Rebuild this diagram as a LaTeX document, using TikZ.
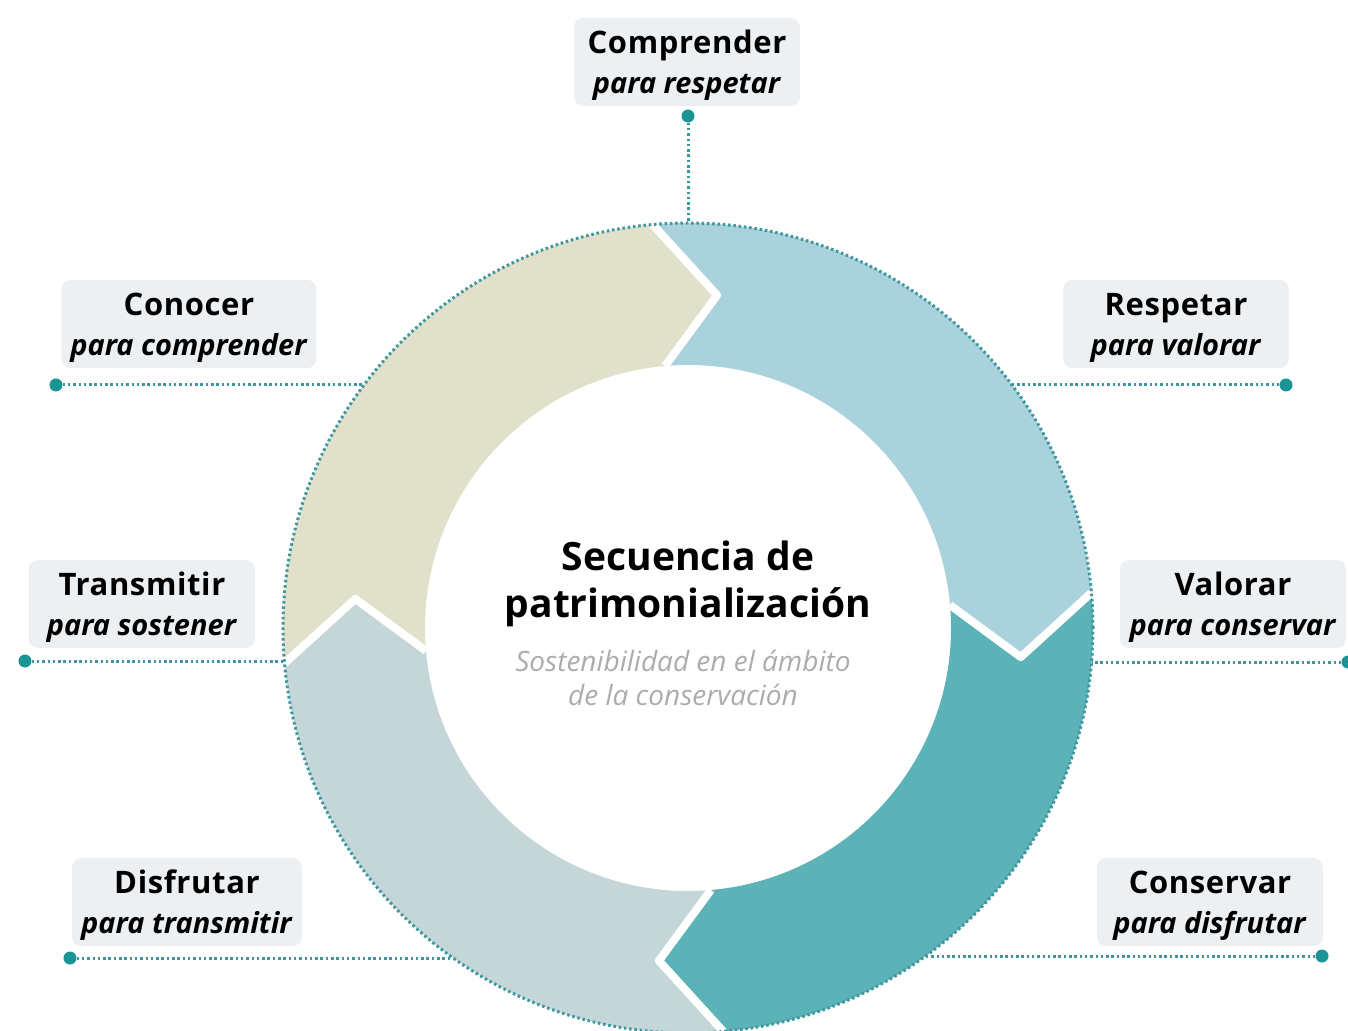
\documentclass[tikz,border=0pt]{standalone}
\usepackage{fontspec}
\setmainfont{Open Sans}
\definecolor{beige}{RGB}{224,224,203}
\definecolor{lblue}{RGB}{170,210,220}
\definecolor{teal}{RGB}{91,178,183}
\definecolor{gblue}{RGB}{197,214,216}
\definecolor{boxgrey}{RGB}{237,240,242}
\definecolor{dotcol}{RGB}{62,150,158}
\definecolor{pincol}{RGB}{27,148,150}
\definecolor{subgrey}{RGB}{172,172,172}
\newcommand\tagtop[1]{{\fontsize{31}{40}\selectfont\addfontfeatures{LetterSpace=2}#1}}
\begin{document}
\begin{tikzpicture}[
	x=1pt, y=1pt,
	tag/.style={fill=boxgrey, rounded corners=9pt, align=center,
		minimum width=226pt, minimum height=88pt, inner xsep=9pt,
		text depth=-2pt, font=\fontsize{29}{40}\selectfont\bfseries},
	link/.style={draw=dotcol, line width=3pt, dash pattern=on 2.5pt off 2.8pt},
	pin/.style={circle, fill=pincol, inner sep=0pt, minimum size=13pt},
	gap/.style={draw=white, line width=8pt, line join=round},
	title/.style={align=center, font=\fontsize{39}{47}\selectfont\bfseries},
	sub/.style={align=center, text=subgrey, font=\fontsize{28}{34}\selectfont\itshape},
]
\useasboundingbox (-688,-402) rectangle (660,628);
% ring
\foreach \s/\c in {185/beige, 95/lblue, 5/teal, -85/gblue} {
	\pgfmathsetmacro\e{\s-90}
	\fill[\c] (\s:405) arc[start angle=\s, end angle=\e, radius=405]
		-- ({\e-10}:334) -- (\e:263) arc[start angle=\e, end angle=\s, radius=263]
		-- ({\s-10}:334) -- cycle;
}
\foreach \s in {185,95,5,-85}
	\draw[gap] (\s:405) -- ({\s-10}:334) -- (\s:263);
\draw[link] (0,0) circle (405pt);
% centre
\node[title] (head) at (0,44) {Secuencia de\\patrimonialización};
\node[sub] (foot) at (-5,-50) {Sostenibilidad en el ámbito\\de la conservación};
% labels
\node[tag] (t1) at (-1,566) {\tagtop{Comprender}\\\textit{para respetar}};
\node[tag] (t2) at (-499,304) {\tagtop{Conocer}\\\textit{para comprender}};
\node[tag] (t3) at (488,304) {\tagtop{Respetar}\\\textit{para valorar}};
\node[tag] (t4) at (-546,24) {\tagtop{Transmitir}\\\textit{para sostener}};
\node[tag] (t5) at (545,24) {\tagtop{Valorar}\\\textit{para conservar}};
\node[tag] (t6) at (-501,-274) {\tagtop{Disfrutar}\\\textit{para transmitir}};
\node[tag] (t7) at (522,-274) {\tagtop{Conservar}\\\textit{para disfrutar}};
% pins and leaders
\node[pin] (p1) at (0,512) {};
\node[pin] (p2) at (-632,243) {};
\node[pin] (p3) at (598,243) {};
\node[pin] (p4) at (-663,-33) {};
\node[pin] (p5) at (660,-34) {};
\node[pin] (p6) at (-618,-330) {};
\node[pin] (p7) at (634,-328) {};
\coordinate (e1) at (0,405);
\coordinate (e2) at (-324,243);
\coordinate (e3) at (324,243);
\coordinate (e4) at (-404,-33);
\coordinate (e5) at (404,-34);
\coordinate (e6) at (-235,-330);
\coordinate (e7) at (238,-328);
\foreach \i in {1,...,7}
	\draw[link] (p\i) -- (e\i);
\end{tikzpicture}
\end{document}
